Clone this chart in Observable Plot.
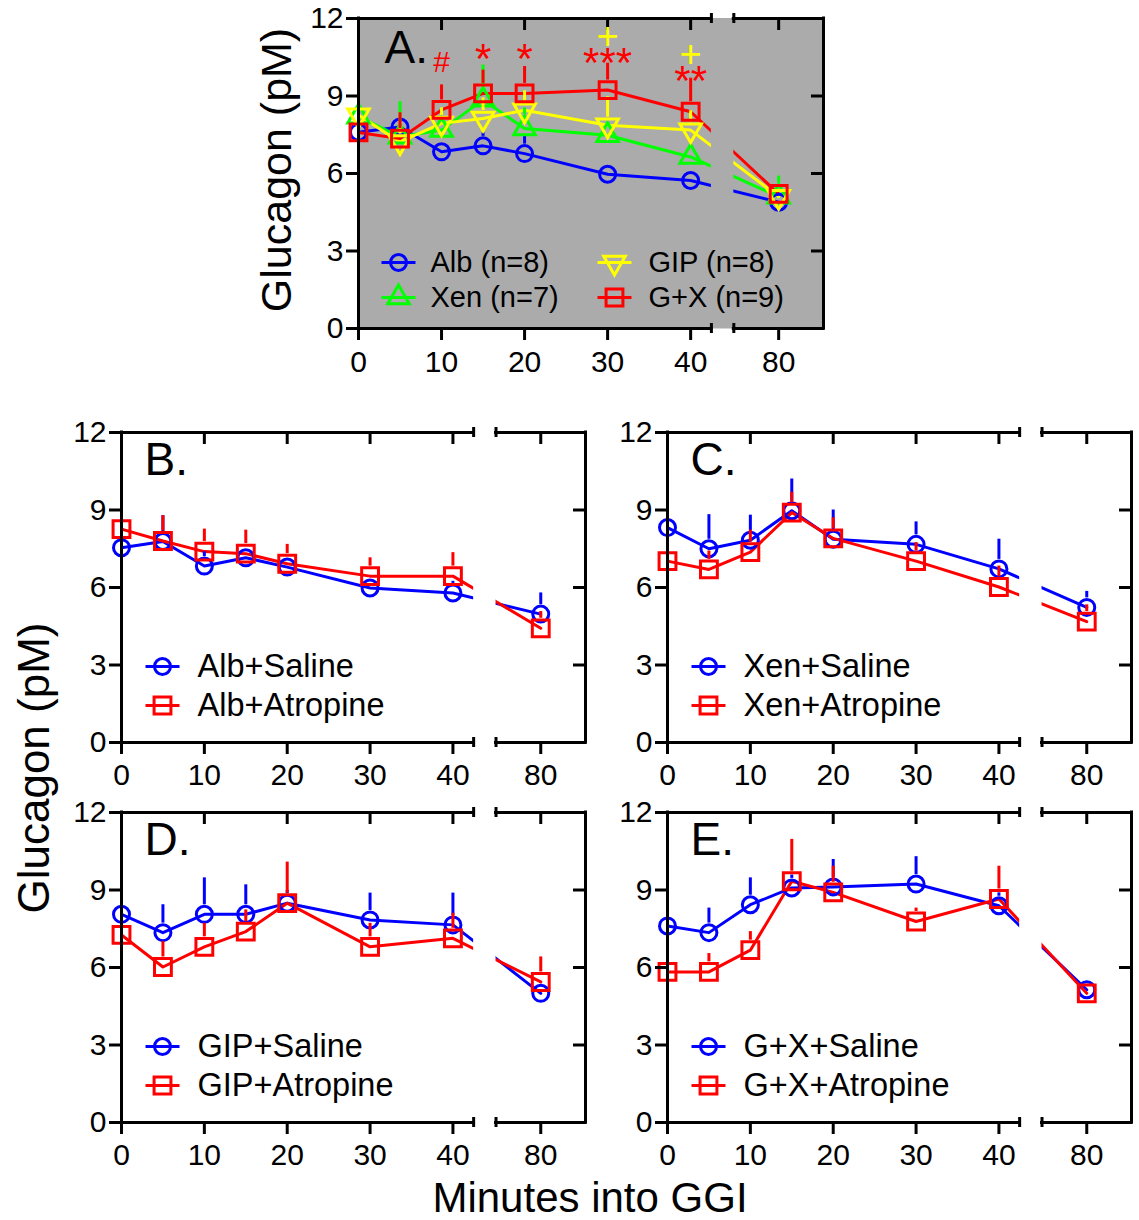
<!DOCTYPE html>
<html><head><meta charset="utf-8">
<script src="https://cdn.jsdelivr.net/npm/d3@7"></script>
<script src="https://cdn.jsdelivr.net/npm/@observablehq/plot@0.6"></script>
<style>
body{margin:0;background:#fff;}
#fig{position:relative;width:1139px;height:1220px;overflow:hidden;font-family:"Liberation Sans",Arial,Helvetica,sans-serif;background:#fff;}
#fig svg{position:absolute;overflow:visible;}
.title{position:absolute;white-space:nowrap;color:#000;line-height:1;}
</style></head><body><div id="fig"></div>
<script>
// ---------- data ----------
const minutes = [0, 5, 10, 15, 20, 30, 40, 80];
const xTickValues = [0, 10, 20, 30, 40, 80];
const xTickLabels = ["0", "10", "20", "30", "40", "80"];
const yTickValues = [0, 3, 6, 9, 12];

// Panel A
const albMean = [7.6, 7.8, 6.84, 7.07, 6.77, 5.97, 5.73, 4.89];
const albSE   = [0.35, 0.3, 0.3, 0.5, 0.7, 0.38, 0.3, 0.3];
const xenMean = [8.2, 7.42, 7.68, 8.85, 7.74, 7.48, 6.64, 5.1];
const xenSE   = [1.68, 1.36, 0.5, 1.35, 0.8, 0.5, 0.66, 0.8];
const gipMean = [8.26, 7.22, 7.94, 8.13, 8.45, 7.87, 7.68, 5.1];
const gipSE   = [1.0, 0.6, 0.6, 0.8, 0.75, 1.1, 0.75, 0.3];
const gxMean  = [7.59, 7.35, 8.46, 9.1, 9.1, 9.23, 8.39, 5.21];
const gxSE    = [0.4, 1.0, 0.97, 0.9, 1.04, 1.04, 1.3, 0.3];

// Significance marks, panel A
const sigMinutes = [10, 15, 20, 30, 30, 40, 40];
const sigLabels  = ["#", "*", "*", "***", "+", "**", "+"];
const sigValues  = [10.3, 10.85, 10.85, 10.7, 11.3, 9.98, 10.6];
const sigColors  = ["red", "red", "red", "red", "yellow", "red", "yellow"];

// Panel B
const albSalMean = [7.54, 7.78, 6.83, 7.15, 6.79, 5.98, 5.79, 4.97];
const albSalSE   = [0.95, 1.0, 0.55, 0.4, 0.4, 0.35, 0.45, 0.82];
const albAtrMean = [8.26, 7.8, 7.39, 7.31, 6.92, 6.44, 6.44, 4.42];
const albAtrSE   = [1.17, 0.98, 0.87, 0.91, 0.75, 0.71, 0.91, 0.65];
// Panel C
const xenSalMean = [8.32, 7.5, 7.83, 8.97, 7.87, 7.67, 6.72, 5.23];
const xenSalSE   = [1.59, 1.32, 0.97, 1.23, 1.13, 0.87, 1.15, 0.62];
const xenAtrMean = [7.02, 6.7, 7.37, 8.9, 7.9, 7.02, 6.02, 4.68];
const xenAtrSE   = [0.9, 0.71, 0.85, 0.79, 0.8, 0.72, 0.81, 0.65];
// Panel D
const gipSalMean = [8.06, 7.35, 8.06, 8.06, 8.49, 7.84, 7.65, 5.0];
const gipSalSE   = [1.14, 1.08, 1.41, 1.14, 0.5, 1.04, 1.23, 0.3];
const gipAtrMean = [7.26, 6.02, 6.8, 7.39, 8.49, 6.8, 7.13, 5.44];
const gipAtrSE   = [1.43, 0.98, 0.91, 0.84, 1.59, 0.91, 0.97, 0.97];
// Panel E
const gxSalMean = [7.61, 7.35, 8.43, 9.08, 9.12, 9.23, 8.39, 5.14];
const gxSalSE   = [1.21, 0.95, 1.04, 0.5, 1.06, 1.06, 0.5, 0.3];
const gxAtrMean = [5.83, 5.83, 6.67, 9.34, 8.91, 7.78, 8.65, 5.0];
const gxAtrSE   = [0.77, 0.71, 0.72, 1.62, 1.01, 0.52, 1.27, 0.3];

// ---------- layout ----------
const XMAX = 56, BREAK1 = 42.5, BREAK2 = 45.2, POS80 = 50.6;
const PLOT_H = 310;
const pxY = PLOT_H / 12;
const pos = t => (t <= 40 ? t : POS80 + (t - 80));
const FONT = '"Liberation Sans", Arial, Helvetica, sans-serif';

const triDown = {
  draw(ctx, size) {
    const y = -Math.sqrt(size / (Math.sqrt(3) * 3));
    ctx.moveTo(0, -y * 2);
    ctx.lineTo(Math.sqrt(3) * y, y);
    ctx.lineTo(-Math.sqrt(3) * y, y);
    ctx.closePath();
  }
};
const SYM = {circle: d3.symbolCircle, square: d3.symbolSquare, triangle: d3.symbolTriangle, triangleDown: triDown};
const SYM_R = {circle: 8, square: 9.5, triangle: 8, triangleDown: 8};
const SYM_INSET = {circle: 9.5, square: 10, triangle: 14, triangleDown: 8};
const legendSym = base => ({draw(ctx, size) { ctx.moveTo(-17, 0); ctx.lineTo(17, 0); base.draw(ctx, size); }});

function makePanel(cfg) {
  const {series, bg, letter, legend, sig, left, top, mL, mT, mR, mB, plotW, xPad} = cfg;
  const pxX = plotW / XMAX;
  const marks = [];
  if (bg !== "white") marks.push(Plot.frame({fill: bg, stroke: "none"}));
  const rows = series.map(s => minutes.map((t, i) => ({x: pos(t), y: s.mean[i], top: s.mean[i] + s.se[i], se: s.se[i]})));
  series.forEach((s, k) => marks.push(Plot.line(rows[k], {x: "x", y: "y", stroke: s.color, strokeWidth: 3})));
  marks.push(Plot.rect([0], {x1: BREAK1, x2: BREAK2, y1: 0, y2: 12, fill: bg}));
  series.forEach((s, k) => {
    const inset = SYM_INSET[s.symbol];
    marks.push(Plot.ruleX(rows[k].filter(d => d.se * pxY > inset + 1), {x: "x", y1: "top", y2: "y", stroke: s.color, strokeWidth: 3, insetBottom: inset}));
    marks.push(Plot.dot(rows[k], {x: "x", y: "y", symbol: SYM[s.symbol], r: SYM_R[s.symbol], stroke: s.color, fill: "none", strokeWidth: 3}));
  });
  // frame
  const fs = {stroke: "black", strokeWidth: 3, strokeLinecap: "square"};
  marks.push(Plot.ruleX([0, XMAX], {y1: 0, y2: 12, ...fs}));
  marks.push(Plot.ruleY([0, 12], {x1: 0, x2: BREAK1, ...fs}));
  marks.push(Plot.ruleY([0, 12], {x1: BREAK2, x2: XMAX, ...fs}));
  const bt = 5 / pxY;
  marks.push(Plot.ruleX([BREAK1, BREAK2], {y1: -bt, y2: bt, stroke: "black", strokeWidth: 3}));
  marks.push(Plot.ruleX([BREAK1, BREAK2], {y1: 12 - bt, y2: 12 + bt, stroke: "black", strokeWidth: 3}));
  // inward ticks (top and right)
  const tl = 12;
  marks.push(Plot.ruleX(xTickValues.filter(t => t > 0).map(pos), {y1: 12 - tl / pxY, y2: 12, stroke: "black", strokeWidth: 3}));
  marks.push(Plot.ruleY(yTickValues.filter(v => v > 0 && v < 12), {x1: XMAX - tl / pxX, x2: XMAX, stroke: "black", strokeWidth: 3}));
  // labelled axes
  const xPos = xTickValues.map(pos);
  marks.push(Plot.axisY({ticks: yTickValues, tickSize: 12, tickPadding: 3, fontSize: 30, label: null, strokeWidth: 3, tickFormat: d => String(d)}));
  marks.push(Plot.axisX({ticks: xPos, tickSize: 12, tickPadding: xPad, fontSize: 30, label: null, strokeWidth: 3,
    tickFormat: d => xTickLabels[xPos.indexOf(d)]}));
  // panel letter
  marks.push(Plot.text([letter.text], {text: d => d, frameAnchor: "top-left", dx: letter.dx, dy: letter.dy, fontSize: 46, textAnchor: "start", lineAnchor: "top", fill: "black"}));
  // legend
  legend.items.forEach(it => {
    const s = series[it.series];
    marks.push(Plot.dot([0], {frameAnchor: "top-left", dx: it.mx, dy: it.row, symbol: legendSym(SYM[s.symbol]), r: SYM_R[s.symbol], stroke: s.color, fill: "none", strokeWidth: 3}));
    marks.push(Plot.text([s.label], {text: d => d, frameAnchor: "top-left", dx: it.tx, dy: it.row, fontSize: legend.fontSize, textAnchor: "start", lineAnchor: "middle", fill: "black"}));
  });
  // significance
  if (sig) {
    const sr = sigMinutes.map((t, i) => ({x: pos(t), y: sigValues[i], label: sigLabels[i], color: sigColors[i]}));
    marks.push(Plot.text(sr.filter(d => d.label === "#"), {x: "x", y: "y", text: "label", fill: "red", fontSize: 30}));
    marks.push(Plot.text(sr.filter(d => d.label.includes("*")), {x: "x", y: "y", text: "label", fill: "red", fontSize: 42, dy: 11}));
    marks.push(Plot.text(sr.filter(d => d.label === "+"), {x: "x", y: "y", text: "label", fill: "yellow", fontSize: 38}));
  }
  const svg = Plot.plot({
    width: mL + plotW + mR, height: mT + PLOT_H + mB,
    marginLeft: mL, marginRight: mR, marginTop: mT, marginBottom: mB,
    x: {type: "linear", domain: [0, XMAX]},
    y: {type: "linear", domain: [0, 12]},
    style: {fontFamily: FONT, background: "none", color: "black", overflow: "visible"},
    marks
  });
  svg.style.left = left + "px";
  svg.style.top = top + "px";
  document.getElementById("fig").appendChild(svg);
}

const BLUE = "#0000ff", RED = "#ff0000", GREEN = "#00ff00", YELLOW = "#ffff00";

makePanel({
  series: [
    {label: "Alb (n=8)", mean: albMean, se: albSE, color: BLUE, symbol: "circle"},
    {label: "Xen (n=7)", mean: xenMean, se: xenSE, color: GREEN, symbol: "triangle"},
    {label: "GIP (n=8)", mean: gipMean, se: gipSE, color: YELLOW, symbol: "triangleDown"},
    {label: "G+X (n=9)", mean: gxMean, se: gxSE, color: RED, symbol: "square"}
  ],
  bg: "#ababab", letter: {text: "A.", dx: 26, dy: 12},
  legend: {fontSize: 29, items: [
    {series: 0, mx: 40, tx: 72, row: 244},
    {series: 1, mx: 40, tx: 72, row: 279},
    {series: 2, mx: 256, tx: 290, row: 244},
    {series: 3, mx: 256, tx: 290, row: 279}
  ]},
  sig: true, left: 240, top: 0, mL: 118, mT: 18, mR: 16, mB: 62, plotW: 465, xPad: 10
});

const lower = [
  {a: "Alb", m1: albSalMean, s1: albSalSE, m2: albAtrMean, s2: albAtrSE, letter: "B.", left: 55, top: 412},
  {a: "Xen", m1: xenSalMean, s1: xenSalSE, m2: xenAtrMean, s2: xenAtrSE, letter: "C.", left: 601, top: 412},
  {a: "GIP", m1: gipSalMean, s1: gipSalSE, m2: gipAtrMean, s2: gipAtrSE, letter: "D.", left: 55, top: 792},
  {a: "G+X", m1: gxSalMean, s1: gxSalSE, m2: gxAtrMean, s2: gxAtrSE, letter: "E.", left: 601, top: 792}
];
lower.forEach(p => makePanel({
  series: [
    {label: p.a + "+Saline", mean: p.m1, se: p.s1, color: BLUE, symbol: "circle"},
    {label: p.a + "+Atropine", mean: p.m2, se: p.s2, color: RED, symbol: "square"}
  ],
  bg: "white", letter: {text: p.letter, dx: 23, dy: 10},
  legend: {fontSize: 32.5, items: [
    {series: 0, mx: 41, tx: 76, row: 234},
    {series: 1, mx: 41, tx: 76, row: 273}
  ]},
  sig: false, left: p.left, top: p.top, mL: 66, mT: 20, mR: 8, mB: 60, plotW: 464, xPad: 9
}));

// axis titles
const fig = document.getElementById("fig");
function addTitle(text, x, y, size, rotate) {
  const d = document.createElement("div");
  d.className = "title";
  d.textContent = text;
  d.style.fontSize = size + "px";
  d.style.left = x + "px";
  d.style.top = y + "px";
  d.style.transform = "translate(-50%,-50%)" + (rotate ? " rotate(-90deg)" : "");
  fig.appendChild(d);
}
addTitle("Glucagon (pM)", 276, 170, 43, true);
addTitle("Glucagon (pM)", 34, 768, 44, true);
addTitle("Minutes into GGI", 590, 1198, 42, false);
</script></body></html>
